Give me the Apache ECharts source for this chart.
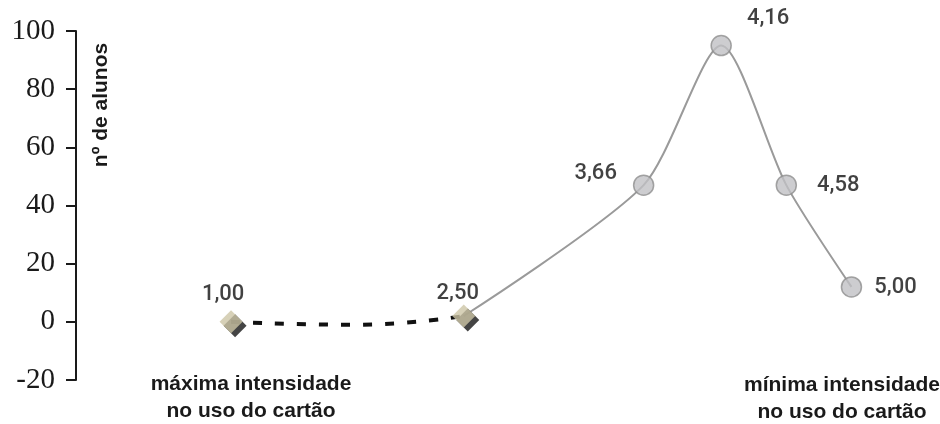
<!DOCTYPE html>
<html>
<head>
<meta charset="utf-8">
<script src="https://cdn.jsdelivr.net/npm/echarts@6/dist/echarts.min.js"></script>
<style>html,body{margin:0;padding:0;background:#fff}#c{width:940px;height:424px}</style>
</head>
<body>
<div id="c"></div>
<script>
// x = score (intensidade no uso do cartão), y = nº de alunos
const dashedPoints = [[1.00, 0], [1.8, -1], [2.50, 2]];
const diamondPoints = [[1.00, 0], [2.50, 2]];
const curvePoints = [[2.50, 2], [3.66, 47], [4.16, 95], [4.58, 47], [5.00, 12]];
const circlePoints = [[3.66, 47], [4.16, 95], [4.58, 47], [5.00, 12]];
const yTicks = [-20, 0, 20, 40, 60, 80, 100];
const axisName = 'nº de alunos';
const leftNote = 'máxima intensidade\nno uso do cartão';
const rightNote = 'mínima intensidade\nno uso do cartão';

const fmt = v => v.toFixed(2).replace('.', ',');
const labelPos = {'1.00': 'top', '2.50': 'top', '3.66': 'left', '4.16': 'right', '4.58': 'right', '5.00': 'right'};
const labelOffset = {'1.00': [-8, 7], '2.50': [-6, 12], '3.66': [-4, -12], '4.16': [3, -27], '4.58': [8, 0], '5.00': [0, 1]};

const chart = echarts.init(document.getElementById('c'));
const labelStyle = {fontFamily: 'Roboto, Liberation Sans, Arial, sans-serif', fontWeight: 500, fontSize: 22, color: '#111'};
function mkLabel(d) {
  const k = d[0].toFixed(2);
  return {show: true, position: labelPos[k], offset: labelOffset[k], distance: 12, formatter: fmt(d[0]), ...labelStyle};
}
const noteFont = 'Liberation Sans Narrow, Liberation Sans, Arial, sans-serif';
chart.setOption({
  animation: false,
  grid: {left: 76, right: 11, top: 31, bottom: 44},
  xAxis: {type: 'value', min: 0, max: 5.5, show: false},
  yAxis: {
    type: 'value', min: yTicks[0], max: yTicks[yTicks.length - 1], interval: 20, offset: 4,
    axisLine: {show: true, lineStyle: {color: '#1a1a1a', width: 2}},
    axisTick: {show: true, length: 10, lineStyle: {color: '#1a1a1a', width: 2}},
    axisLabel: {fontFamily: 'Liberation Serif, Times New Roman, serif', fontSize: 29, color: '#1a1a1a', margin: 17},
    splitLine: {show: false}
  },
  series: [
    {
      type: 'line', data: dashedPoints, smooth: 0.5, symbol: 'none',
      lineStyle: {color: '#111', width: 4, type: [9, 13]}, z: 2
    },
    {
      type: 'line', data: curvePoints, smooth: 0.25, symbol: 'none',
      lineStyle: {color: '#9a9a9a', width: 2}, z: 2
    },
    {
      type: 'scatter', symbol: 'diamond', symbolSize: [23, 23], symbolOffset: [4, 4],
      data: diamondPoints, silent: true,
      itemStyle: {color: '#151515'}, z: 3
    },
    {
      type: 'scatter', symbol: 'diamond', symbolSize: [23, 23],
      data: diamondPoints.map(d => ({value: d, label: mkLabel(d)})),
      itemStyle: {color: '#cdc6a6'}, z: 4
    },
    {
      type: 'scatter', symbol: 'circle', symbolSize: 20,
      data: circlePoints.map(d => ({value: d, label: mkLabel(d)})),
      itemStyle: {color: '#c0c0c4', borderColor: '#8e8e8e', borderWidth: 1.5}, z: 3
    }
  ],
  graphic: [
    {type: 'text', x: 101, y: 105, rotation: Math.PI / 2,
      style: {text: axisName, fontFamily: noteFont, fontWeight: 'bold', fontSize: 21, fill: '#1a1a1a', align: 'center', verticalAlign: 'middle'}},
    {type: 'text', x: 251, y: 398,
      style: {text: leftNote, fontFamily: noteFont, fontWeight: 'bold', fontSize: 21, lineHeight: 27, fill: '#1a1a1a', align: 'center', verticalAlign: 'middle'}},
    {type: 'text', x: 842, y: 399,
      style: {text: rightNote, fontFamily: noteFont, fontWeight: 'bold', fontSize: 21, lineHeight: 27, fill: '#1a1a1a', align: 'center', verticalAlign: 'middle'}}
  ]
});
</script>
</body>
</html>
